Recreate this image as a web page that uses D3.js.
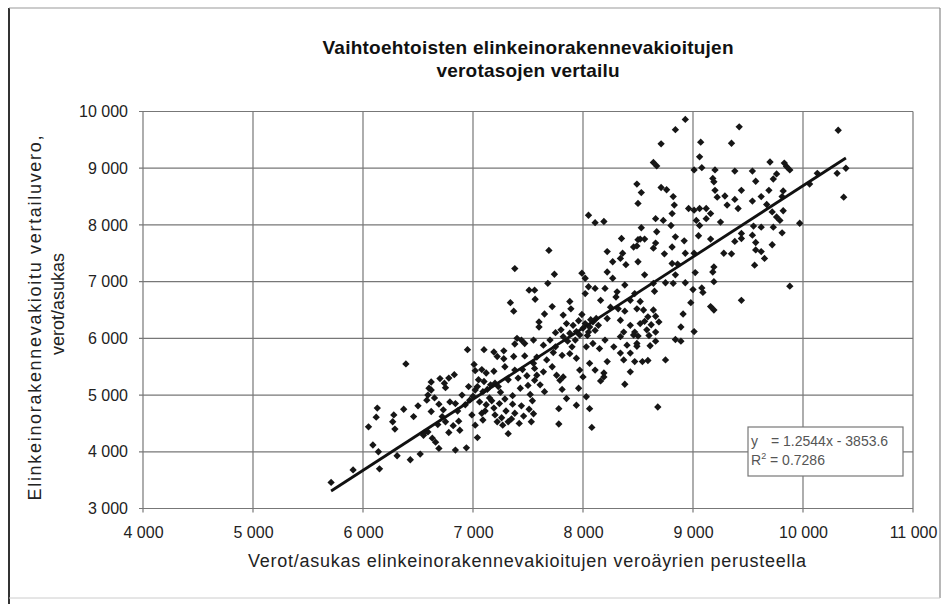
<!DOCTYPE html>
<html>
<head>
<meta charset="utf-8">
<script src="https://cdn.jsdelivr.net/npm/d3@7"></script>
<style>
  body { margin: 0; background: #fff; }
  svg { display: block; font-family: "Liberation Sans", Arial, sans-serif; }
</style>
</head>
<body>
<svg id="chart" width="947" height="604"></svg>
<script>
// Axis ticks
const xTicks = [4000, 5000, 6000, 7000, 8000, 9000, 10000, 11000];
const yTicks = [3000, 4000, 5000, 6000, 7000, 8000, 9000, 10000];

// Titles
const titleLines = ["Vaihtoehtoisten elinkeinorakennevakioitujen", "verotasojen vertailu"];
const xTitle = "Verot/asukas elinkeinorakennevakioitujen veroäyrien perusteella";
const yTitleLines = ["Elinkeinorakennevakioitu vertailuvero,", "verot/asukas"];

// Linear trend
const trendSlope = 1.2544;
const trendIntercept = -3853.6;
const rSquared = 0.7286;

// Municipalities: [tax per resident by adjusted tax base, adjusted comparison tax per resident]
const municipalities = [
  [6390,5550],[6130,4770],[6120,4610],[6050,4440],[6090,4120],[6140,4000],[6150,3700],[5910,3680],[5710,3460],[6280,4650],
  [6270,4530],[6290,4400],[6370,4750],[6460,4620],[6500,4810],[6310,3930],[6430,3860],[6520,3960],[6550,4290],[6590,4350],
  [6600,5120],[6590,5000],[6560,4340],
  [7380,7230],[7510,6850],[7340,6630],[7370,6480],[7565,6690],[7400,6000],[7440,5970],[7470,5910],[7380,5900],[6950,5800],
  [7100,5800],[7190,5760],[7280,5780],[7220,5680],[7550,5970],[7470,5690],
  [6620,5230],[6620,5090],[6700,5290],[6740,5210],[6780,5300],[6830,5360],[6750,5130],
  [6580,4910],[6690,4840],[6620,4710],[6790,4880],[6730,4740],
  [6750,4530],[6820,4460],[6870,4540],[6780,4340],[6880,4380],
  [6630,4240],[6660,4170],[6690,4060],[6840,4030],[6940,4070],[7040,4250],
  [7010,5540],[7020,5430],[7080,5450],[7120,5390],[7190,5420],[7050,5270],[7100,5240],[7160,5180],[7200,5210],[7230,5150],
  [7020,5090],[7090,5060],[6970,4910],[6930,4830],[7060,4880],[7120,4830],[7080,4680],[7090,4560],[7190,4770],[7200,4650],
  [7220,4530],[7270,4470],[7020,4470],[7320,4530],[7320,4320],
  [7280,5640],[7370,5680],[7550,5560],[7290,5500],[7380,5440],
  [7320,5270],[7410,5300],[7490,5340],[7500,5170],[7430,5120],[7360,4990],[7290,4930],[7360,4840],[7440,4810],[7510,4750],
  [7300,4720],[7380,4680],[7460,4630],[7350,4580],[7420,4500],[7530,4530],[7540,4900],[7520,5010],
  [6900,5000],[6960,5150],[6860,4720],[6990,4650],[7150,4950],[7250,5050],
  [7040,5150],[7130,5100],[7170,4900],[7240,4850],[7000,4980],[7110,4720],[7260,4600],
  [6680,4480],[6720,4620],[6840,4850],[6650,4950],[7450,5450],[7580,5350],
  [7690,7550],[7740,7130],[7990,7150],[8020,7060],[8350,7760],[8460,7610],[8500,7740],[8220,7530],[8360,7500],[8340,7410],
  [8270,7350],[8390,7300],[8220,7170],[8270,7060],[7680,6970],[7560,6850],
  [7720,6560],[7650,6430],[7820,6410],[7880,6650],[7890,6520],[7600,6290],[7600,6200],[7850,6260],[7910,6230],
  [8020,6260],[8060,6200],[8110,6140],[8050,6110],[8090,6290],[8140,6230],
  [8020,6790],[8050,6910],[8110,6880],[8160,6670],[8200,6880],[8310,6820],[8380,6940],[8300,6730],[8250,6550],
  [8320,6520],[8380,6480],[8430,6670],[8470,6790],[8490,6520],[8220,6350],[8340,6320],[8430,6230],[8370,6110],[8470,6110],
  [8050,8170],[8110,8040],[8190,8060],
  [8000,6180],[8070,6330],[7960,6310],[8120,6350],[7730,5750],[7900,5850],
  [7750,6100],[7800,6150],[7860,5950],[7990,6420],[7940,6120],[8040,6050],
  [7640,5880],[7700,5970],[7750,5850],[7820,6030],[7880,6090],[7930,5970],[7970,6060],
  [7810,5700],[7880,5730],[7940,5650],[7580,5670],[7670,5620],[7560,5470],[7640,5410],[7720,5500],[7760,5350],[7820,5320],
  [7790,5260],[7560,5260],
  [7610,5180],[7650,5060],[7810,5100],[7970,5440],[8000,5320],[7960,5120],[7850,4940],[7940,4820],[7780,4760],[8030,4970],
  [8060,4760],[7780,4490],[8080,4430],[7550,4670],
  [8030,5850],[8090,5910],[8150,5820],[8200,5970],[8280,5850],[8340,6030],[8400,5880],[8460,6060],[8490,5910],[8340,5740],
  [8430,5740],[8370,5620],[8220,5590],[8190,5390],[8190,5320],[8160,5250],[8380,5190],[8430,5410],[8470,5590],[8060,5560],
  [8110,5440],
  [8930,9860],[8840,9680],[8710,9430],[9070,9460],[9350,9440],[9420,9730],
  [8640,9100],[8670,9040],[9060,9200],[9010,8970],[9080,9010],[9200,8970],[9180,8820],[9190,8760],[9380,8950],
  [8490,8720],[8530,8570],[8500,8380],[8710,8660],[8760,8620],[8820,8500],[8830,8350],[8960,8290],[8810,8200],[8660,8110],
  [8730,8080],[8800,7990],
  [8530,7950],[8520,7750],[8560,7750],[8670,7880],[8660,7680],[8840,7790],[8810,7610],[8920,7720],[8740,7490],[8860,7310],
  [8810,7320],[8640,7590],[8560,7120],[8490,7630],
  [8750,6980],[8650,6830],[8840,7120],[8930,6980],[9000,6860],[9020,7160],[9010,7500],[9050,7810],[9010,8260],[9060,8290],
  [9120,8290],[9160,8200],[9030,8080],[9060,7990],[9120,8110],
  [9200,8610],[9220,8490],[9290,8510],[9310,8350],[9380,8450],[9440,8610],[9410,8290],[9250,8050],[9160,7750],[9280,7500],
  [9350,7490],[9380,7710],[9440,7850],
  [9190,7260],[9180,7170],[9190,7000],[9080,6890],[9090,6810],[9160,6560],[9190,6500],[9440,6670],[8910,6430],[8890,6200],
  [9010,6120],[8980,6630],[8840,5980],[8890,5950],[8750,5620],[8590,5610],[8540,5590],[8680,4790],
  [8520,6650],[8550,6500],[8590,6380],[8660,6390],[8690,6290],[8520,6260],[8580,6150],[8500,6040],[8610,5870],[8660,5950],
  [8490,5860],[8660,6110],[8620,6240],[8560,6300],[8640,6500],[8600,6050],
  [8500,7350],[8640,6970],[8820,6970],[8930,7500],
  [10320,9670],[9700,9110],[9830,9090],[9850,9030],[9880,8970],[9540,8950],[9760,8900],[9730,8810],[9570,8770],[9690,8610],
  [9820,8600],[9620,8500],[9810,8500],[9540,8420],[9670,8360],[10130,8910],[10060,8720],[10310,8910],[10390,9000],[10370,8490],
  [9720,8230],[9820,8250],[9760,8140],[9790,8080],[9970,8030],[9550,7980],[9620,7960],[9730,7960],[9440,7760],[9540,7820],
  [9810,7860],[9570,7690],[9720,7650],[9570,7560],[9620,7530],[9650,7410],[9560,7290],[9880,6920]
];

const svg = d3.select("#chart");
const W = 947, H = 604;
const plot = { left: 143, right: 913, top: 111.5, bottom: 508.5 };

const x = d3.scaleLinear().domain([4000, 11000]).range([plot.left, plot.right]);
const y = d3.scaleLinear().domain([3000, 10000]).range([plot.bottom, plot.top]);
const fmt = v => d3.format(",")(v).replace(/,/g, " ");

svg.append("rect").attr("width", W).attr("height", H).attr("fill", "#fff");

// Outer chart frame
svg.append("line").attr("x1", 9).attr("x2", 9).attr("y1", 8).attr("y2", H)
  .attr("stroke", "#333").attr("stroke-width", 2);
svg.append("line").attr("x1", 9).attr("x2", 940).attr("y1", 8).attr("y2", 8)
  .attr("stroke", "#999").attr("stroke-width", 1.2);
svg.append("line").attr("x1", 940).attr("x2", 940).attr("y1", 8).attr("y2", 598)
  .attr("stroke", "#888").attr("stroke-width", 1.2);
svg.append("line").attr("x1", 9).attr("x2", 940).attr("y1", 598).attr("y2", 598)
  .attr("stroke", "#ccc").attr("stroke-width", 1);

// Title
const title = svg.append("g").attr("font-weight", "bold").attr("font-size", 19).attr("fill", "#111")
  .attr("text-anchor", "middle");
title.append("text").attr("x", 528).attr("y", 54).attr("textLength", 411).attr("lengthAdjust", "spacing")
  .text(titleLines[0]);
title.append("text").attr("x", 528).attr("y", 77).attr("textLength", 183).attr("lengthAdjust", "spacing")
  .text(titleLines[1]);

// Gridlines
const grid = svg.append("g").attr("stroke", "#777").attr("stroke-width", 1.2);
grid.selectAll("line.h").data(yTicks).join("line")
  .attr("x1", plot.left - 4).attr("x2", plot.right)
  .attr("y1", d => y(d)).attr("y2", d => y(d));
grid.selectAll("line.v").data(xTicks).join("line")
  .attr("x1", d => x(d)).attr("x2", d => x(d))
  .attr("y1", plot.top).attr("y2", plot.bottom + 4);

// Axes (labels only)
const xAxis = svg.append("g").attr("transform", `translate(0,${plot.bottom})`)
  .call(d3.axisBottom(x).tickValues(xTicks).tickSize(0).tickPadding(18).tickFormat(fmt));
const yAxis = svg.append("g").attr("transform", `translate(${plot.left},0)`)
  .call(d3.axisLeft(y).tickValues(yTicks).tickSize(0).tickPadding(15).tickFormat(fmt));
[xAxis, yAxis].forEach(a => {
  a.select(".domain").remove();
  a.selectAll("text").attr("font-size", 16).attr("fill", "#222")
    .attr("font-family", "'Liberation Sans', Arial, sans-serif");
});

// Axis titles
svg.append("text").attr("x", 527).attr("y", 567).attr("text-anchor", "middle")
  .attr("font-size", 18).attr("fill", "#222").attr("textLength", 558).attr("lengthAdjust", "spacing")
  .text(xTitle);
svg.append("text").attr("transform", "translate(41,318) rotate(-90)").attr("text-anchor", "middle")
  .attr("font-size", 18).attr("fill", "#222").attr("textLength", 365).attr("lengthAdjust", "spacing")
  .text(yTitleLines[0]);
svg.append("text").attr("transform", "translate(64,304) rotate(-90)").attr("text-anchor", "middle")
  .attr("font-size", 18).attr("fill", "#222").attr("textLength", 102).attr("lengthAdjust", "spacing")
  .text(yTitleLines[1]);

// Scatter markers (diamonds)
const diamond = d3.symbol(d3.symbolSquare, 27)();
svg.append("g").attr("fill", "#161616")
  .selectAll("path").data(municipalities).join("path")
  .attr("d", diamond)
  .attr("transform", d => `translate(${x(d[0])},${y(d[1])}) rotate(45)`);

// Trend line across the data range
const [xMin, xMax] = d3.extent(municipalities, d => d[0]);
svg.append("path")
  .datum([xMin, xMax])
  .attr("d", d3.line().x(v => x(v)).y(v => y(trendSlope * v + trendIntercept)))
  .attr("stroke", "#111").attr("stroke-width", 2.8).attr("fill", "none");

// Equation box
const box = svg.append("g");
box.append("rect").attr("x", 748).attr("y", 427).attr("width", 155).attr("height", 49)
  .attr("fill", "#fff").attr("stroke", "#777").attr("stroke-width", 1.2);
const eq = box.append("g").attr("font-size", 14).attr("fill", "#555");
eq.append("text").attr("x", 751).attr("y", 446).text("y");
eq.append("text").attr("x", 771).attr("y", 446)
  .text(`= ${d3.format(".4f")(trendSlope)}x - ${d3.format(".1f")(-trendIntercept)}`);
const r2 = eq.append("text").attr("x", 751).attr("y", 465);
r2.append("tspan").text("R");
r2.append("tspan").attr("font-size", 9).attr("dy", -6).text("2");
r2.append("tspan").attr("dy", 6).text(` = ${rSquared}`);
</script>
</body>
</html>
